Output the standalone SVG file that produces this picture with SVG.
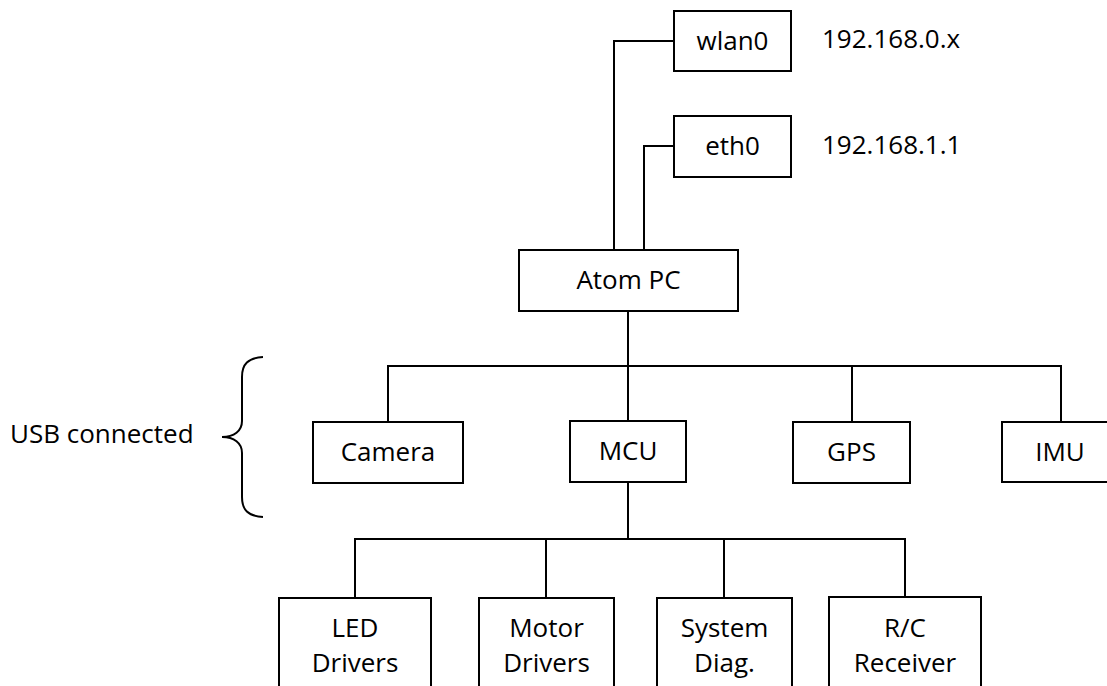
<svg xmlns="http://www.w3.org/2000/svg" width="1107" height="686" viewBox="0 0 1107 686">
<style>
.box{fill:#fff;stroke:#000;stroke-width:2}
.ln{fill:none;stroke:#000;stroke-width:2}
text{font-family:"Open Sans","Noto Sans","Liberation Sans",sans-serif;font-size:26px;fill:#000}
.c{text-anchor:middle}
</style>
<rect width="1107" height="686" fill="#fff"/>
<g id="connectors">
<path class="ln" d="M674 41H614V250"/>
<path class="ln" d="M674 146H644V250"/>
<path class="ln" d="M628 311V366"/>
<path class="ln" d="M388 422V366H1061V422"/>
<path class="ln" d="M628 366V421"/>
<path class="ln" d="M852 366V422"/>
<path class="ln" d="M628 482V539"/>
<path class="ln" d="M355 598V539H905V598"/>
<path class="ln" d="M546 539V598"/>
<path class="ln" d="M724 539V598"/>
</g>
<g id="brace">
<path class="ln" d="M263 357C248 358 242 364 242 377V421C242 431 234 437 222 437C234 437 242 443 242 453V497C242 510 248 516 263 517"/>
<text x="10" y="443">USB connected</text>
</g>
<g id="wlan0"><rect class="box" x="674" y="11" width="117" height="60"/><text class="c" x="732.5" y="50">wlan0</text></g>
<text id="ip-wlan0" x="822" y="48">192.168.0.x</text>
<g id="eth0"><rect class="box" x="674" y="116" width="117" height="61"/><text class="c" x="732.5" y="155">eth0</text></g>
<text id="ip-eth0" x="822" y="154">192.168.1.1</text>
<g id="atom"><rect class="box" x="519" y="250" width="219" height="61"/><text class="c" x="628.5" y="289">Atom PC</text></g>
<g id="camera"><rect class="box" x="313" y="422" width="150" height="61"/><text class="c" x="388" y="461">Camera</text></g>
<g id="mcu"><rect class="box" x="570" y="421" width="116" height="61"/><text class="c" x="628" y="460">MCU</text></g>
<g id="gps"><rect class="box" x="793" y="422" width="117" height="61"/><text class="c" x="851.5" y="461">GPS</text></g>
<g id="imu"><rect class="box" x="1002" y="422" width="120" height="60"/><text class="c" x="1060" y="461">IMU</text></g>
<g id="led"><rect class="box" x="279" y="598" width="152" height="110"/><text class="c" x="355" y="637">LED</text><text class="c" x="355" y="672">Drivers</text></g>
<g id="motor"><rect class="box" x="479" y="598" width="135" height="110"/><text class="c" x="546.5" y="637">Motor</text><text class="c" x="546.5" y="672">Drivers</text></g>
<g id="system"><rect class="box" x="657" y="598" width="135" height="110"/><text class="c" x="724.5" y="637">System</text><text class="c" x="724.5" y="672">Diag.</text></g>
<g id="rc"><rect class="box" x="829" y="597" width="152" height="110"/><text class="c" x="905" y="637">R/C</text><text class="c" x="905" y="672">Receiver</text></g>
</svg>
